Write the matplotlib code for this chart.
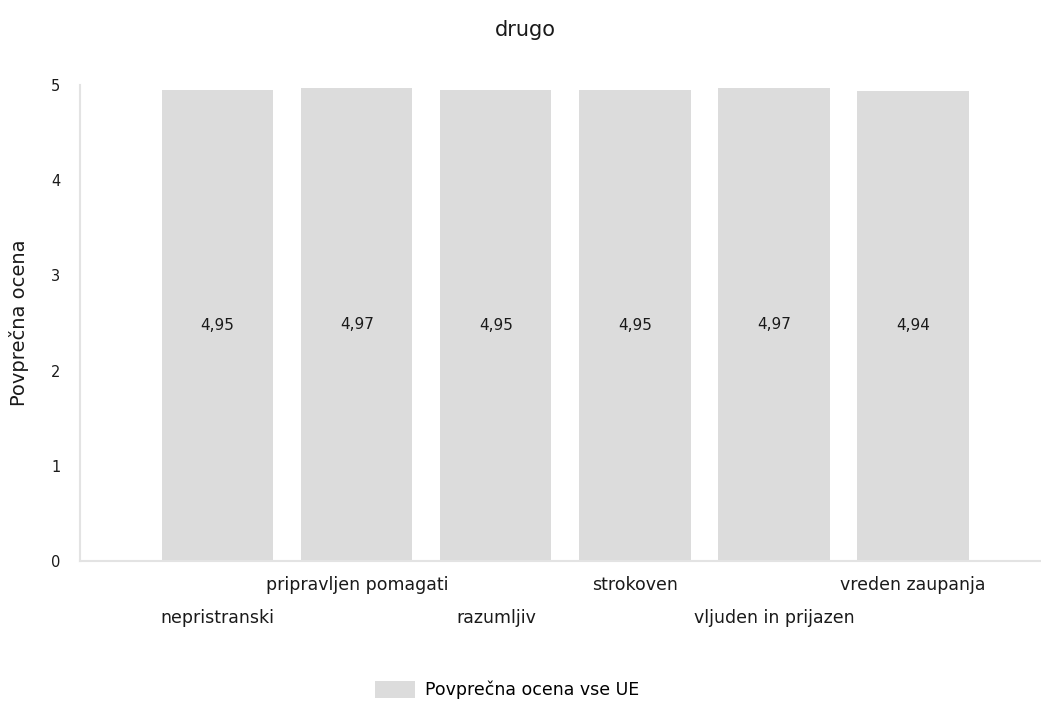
import matplotlib.pyplot as plt
from matplotlib.patches import Patch

categories = ['nepristranski', 'pripravljen pomagati', 'razumljiv',
              'strokoven', 'vljuden in prijazen', 'vreden zaupanja']
values = [4.95, 4.97, 4.95, 4.95, 4.97, 4.94]
series_name = 'Povprečna ocena vse UE'

bar_color = '#dcdcdc'
axis_color = '#e3e3e3'
text_color = '#1a1a1a'

fig = plt.figure(figsize=(10.41, 7.03), dpi=100)
ax = fig.add_axes([80 / 1041, 1 - 561 / 703, 1 - 80 / 1041, (561 - 85) / 703])

x = range(len(categories))
ax.bar(x, values, width=0.8, color=bar_color, zorder=2)

# vrednosti na sredini stolpcev
for xi, v in zip(x, values):
    ax.text(xi, v / 2, f'{v:.2f}'.replace('.', ','), ha='center', va='center',
            fontsize=11, color=text_color)

ax.set_xlim(-0.99, 5.92)
ax.set_ylim(0, 5)
ax.set_yticks([0, 1, 2, 3, 4, 5])
ax.tick_params(axis='y', length=0, pad=14, labelsize=10.5, labelcolor=text_color)
ax.set_xticks([])

for side in ['top', 'right']:
    ax.spines[side].set_visible(False)
for side in ['left', 'bottom']:
    ax.spines[side].set_color(axis_color)
    ax.spines[side].set_linewidth(1.5)

# kategorije v dveh vrstah
for i, name in enumerate(categories):
    y_lab = -0.6 if i % 2 == 0 else -0.25
    ax.text(i, y_lab, name, ha='center', va='center', fontsize=12.5, color=text_color)

ax.set_ylabel('Povprečna ocena', fontsize=14, color=text_color, labelpad=16)

fig.text(525 / 1041, 1 - 30 / 703, 'drugo', ha='center', va='center',
         fontsize=15, color=text_color)

fig.legend(handles=[Patch(facecolor=bar_color, label=series_name)],
           loc='center', bbox_to_anchor=(507 / 1041, 1 - 690 / 703),
           frameon=False, fontsize=12.5, handlelength=2.3, handleheight=1.1,
           handletextpad=0.6)

fig.savefig('out.png', dpi=100)
